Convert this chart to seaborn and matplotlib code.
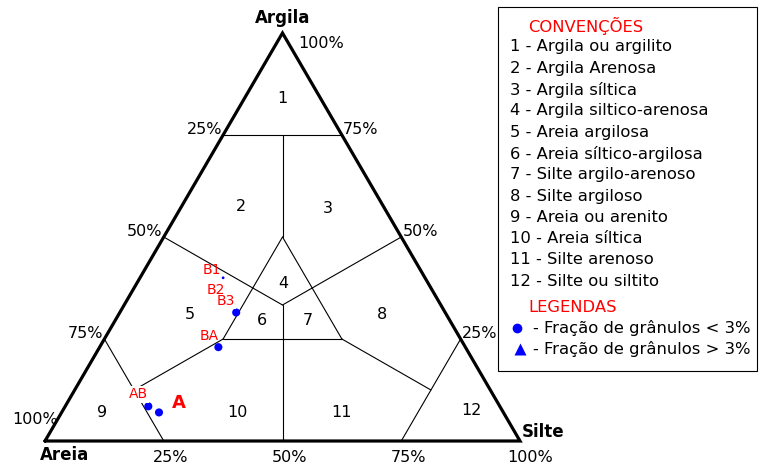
import numpy as np
import pandas as pd
import matplotlib
matplotlib.use("Agg")
import matplotlib.pyplot as plt
from matplotlib.patches import Rectangle
from matplotlib.lines import Line2D
import seaborn as sns

# ---------------- data ----------------
corner_names = ["Areia", "Silte", "Argila"]
tick_values = [25, 50, 75, 100]

class_names = ["Argila ou argilito", "Argila Arenosa", "Argila síltica",
               "Argila siltico-arenosa", "Areia argilosa", "Areia síltico-argilosa",
               "Silte argilo-arenoso", "Silte argiloso", "Areia ou arenito",
               "Areia síltica", "Silte arenoso", "Silte ou siltito"]
class_ids = list(range(1, 13))
# label anchor (sand, silt, clay) %
class_sand = [8, 30, 12, 30.5, 54, 39.5, 30, 13.5, 84.5, 56, 34, 6.5]
class_silt = [8, 12.5, 31, 31, 15, 31, 40.5, 55.5, 8.5, 37, 59, 86]
class_clay = [84, 57.5, 57, 38.5, 31, 29.5, 29.5, 31, 7, 7, 7, 7.5]

# boundary segments (sand, silt, clay) start -> end
c3 = 100 / 3
seg_start = [(25, 0, 75), (12.5, 12.5, 75), (25, 25, 50), (50, 25, 25), (25, 50, 25),
             (50, 0, 50), (0, 50, 50), (c3, c3, c3), (50, 25, 25), (75, 0, 25),
             (25, 50, 25), (0, 75, 25)]
seg_end = [(0, 25, 75), (25, 25, 50), (50, 25, 25), (25, 50, 25), (25, 25, 50),
           (c3, c3, c3), (c3, c3, c3), (50, 50, 0), (75, 12.5, 12.5), (75, 25, 0),
           (12.5, 75, 12.5), (25, 75, 0)]

# samples
sample_names = ["B1", "B3", "BA", "AB", "AB"]
sample_sand = [42.5, 44, 52, 74, 72.5]
sample_silt = [17.5, 24.5, 25, 17.5, 20.5]
sample_clay = [40, 31.5, 23, 8.5, 7]
sample_big = [False, True, True, True, True]

legend_items = ["Fração de grânulos < 3%", "Fração de grânulos > 3%"]

# ---------------- helpers ----------------
W, H = 760, 466
def tern(sand, silt, clay):
    s = sand + silt + clay
    si, cl = silt / s, clay / s
    return si + cl / 2, cl

PX = 72 / 100.0  # points per pixel
FS = 11.5
FL = 11.8

sns.set_theme(style="white")
plt.rcParams['font.family'] = ['DejaVu Sans']
plt.rcParams['text.color'] = 'black'

fig = plt.figure(figsize=(W / 100, H / 100), dpi=100)
ax = fig.add_axes([0, 0, 1, 1])
ax.set_xlim(-45 / 475, 715 / 475)
ax.set_ylim(-25 / 408, 441 / 408)
ax.axis("off")

# outer triangle
tri = pd.DataFrame({"x": [0, 1, 0.5, 0], "y": [0, 0, 1, 0]})
ax.plot(tri.x, tri.y, color="black", lw=2.3, solid_joinstyle="miter", zorder=3)

# inner boundaries
for a, b in zip(seg_start, seg_end):
    x0, y0 = tern(*a)
    x1, y1 = tern(*b)
    ax.plot([x0, x1], [y0, y1], color="black", lw=0.8, zorder=2)

# class numbers
for cid, s, si, c in zip(class_ids, class_sand, class_silt, class_clay):
    x, y = tern(s, si, c)
    ax.text(x, y, str(cid), ha="center", va="center", fontsize=FS, color="black")

# ticks: left edge = sand %, right edge = clay %, bottom = silt %
for v in tick_values:
    x, y = tern(v, 0, 100 - v)
    off = (-1, 5) if v < 100 else (13, 21)
    ax.annotate(f"{v}%", (x, y), xytext=(off[0] * PX, off[1] * PX), textcoords="offset points",
                ha="right", va="center", fontsize=FS)
    x, y = tern(0, 100 - v, v)
    off = (1, 5) if v < 100 else (16, -10)
    ax.annotate(f"{v}%", (x, y), xytext=(off[0] * PX, off[1] * PX), textcoords="offset points",
                ha="left", va="center", fontsize=FS)
for v in tick_values:
    if v == 100:
        x, y = tern(0, 100, 0)
        off = (10, -17)
    else:
        x, y = tern(100 - v, v, 0)
        off = (7, -17)
    ax.annotate(f"{v}%", (x, y), xytext=(off[0] * PX, off[1] * PX), textcoords="offset points",
                ha="center", va="center", fontsize=FS)

# corner names
x, y = tern(100, 0, 0)
ax.annotate(corner_names[0], (x, y), xytext=(-5 * PX, -14 * PX), textcoords="offset points",
            ha="left", va="center", fontsize=12, fontweight="bold")
x, y = tern(0, 100, 0)
ax.annotate(corner_names[1], (x, y), xytext=(2 * PX, 9 * PX), textcoords="offset points",
            ha="left", va="center", fontsize=12, fontweight="bold")
x, y = tern(0, 0, 100)
ax.annotate(corner_names[2], (x, y), xytext=(0, 15 * PX), textcoords="offset points",
            ha="center", va="center", fontsize=12, fontweight="bold")

# samples
pts = pd.DataFrame({"name": sample_names, "sand": sample_sand, "silt": sample_silt,
                    "clay": sample_clay, "big": sample_big})
pts["x"], pts["y"] = tern(pts.sand.values, pts.silt.values, pts.clay.values)
pts["sz"] = np.where(pts.big, 34, 4)
sns.scatterplot(data=pts, x="x", y="y", size="sz", sizes=(4, 34), color="#0000FF",
                edgecolor="none", legend=False, ax=ax, zorder=4)

# sample labels
ax.annotate("B1", (pts.x[0], pts.y[0]), xytext=(-11 * PX, 8 * PX), textcoords="offset points",
            ha="center", va="center", fontsize=10, color="#FF0000", zorder=5)
ax.annotate("B2", (pts.x[0], pts.y[0]), xytext=(-7 * PX, -12 * PX), textcoords="offset points",
            ha="center", va="center", fontsize=10, color="#FF0000", zorder=5)
ax.annotate("B3", (pts.x[1], pts.y[1]), xytext=(-10 * PX, 11 * PX), textcoords="offset points",
            ha="center", va="center", fontsize=10, color="#FF0000", zorder=6,
            bbox=dict(boxstyle="square,pad=0.05", fc="white", ec="none"))
ax.annotate("BA", (pts.x[2], pts.y[2]), xytext=(-9 * PX, 11 * PX), textcoords="offset points",
            ha="center", va="center", fontsize=10, color="#FF0000", zorder=5)
ax.annotate("AB", (pts.x[3], pts.y[3]), xytext=(-10 * PX, 12 * PX), textcoords="offset points",
            ha="center", va="center", fontsize=10, color="#FF0000", zorder=6,
            bbox=dict(boxstyle="square,pad=0.1", fc="white", ec="none"))
ax.annotate("A", (pts.x[4], pts.y[4]), xytext=(20 * PX, 9 * PX), textcoords="offset points",
            ha="center", va="center", fontsize=13, fontweight="bold", color="#FF0000", zorder=6)

# ---------------- legend box ----------------
def fx(px): return px / W
def fy(py): return 1 - py / H

fig.add_artist(Rectangle((fx(498), fy(371)), fx(757) - fx(498), fy(7) - fy(371),
                         transform=fig.transFigure, fill=False, ec="black", lw=0.8))
fig.text(fx(528), fy(26), "CONVENÇÕES", color="#FF0000", fontsize=FL, va="center")
for i, (cid, nm) in enumerate(zip(class_ids, class_names)):
    fig.text(fx(510), fy(47 + i * 21.3), f"{cid} - {nm}", fontsize=FL, va="center")
fig.text(fx(528), fy(307), "LEGENDAS", color="#FF0000", fontsize=FL, va="center")
fig.add_artist(Line2D([fx(517)], [fy(328)], marker="o", ms=7, color="#0000FF",
                      mec="none", transform=fig.transFigure))
fig.add_artist(Line2D([fx(520)], [fy(349)], marker="^", ms=9, color="#0000FF",
                      mec="none", transform=fig.transFigure))
fig.text(fx(533), fy(328), "- " + legend_items[0], fontsize=FL, va="center")
fig.text(fx(533), fy(349), "- " + legend_items[1], fontsize=FL, va="center")

fig.savefig("out.png", dpi=100, facecolor="white")
